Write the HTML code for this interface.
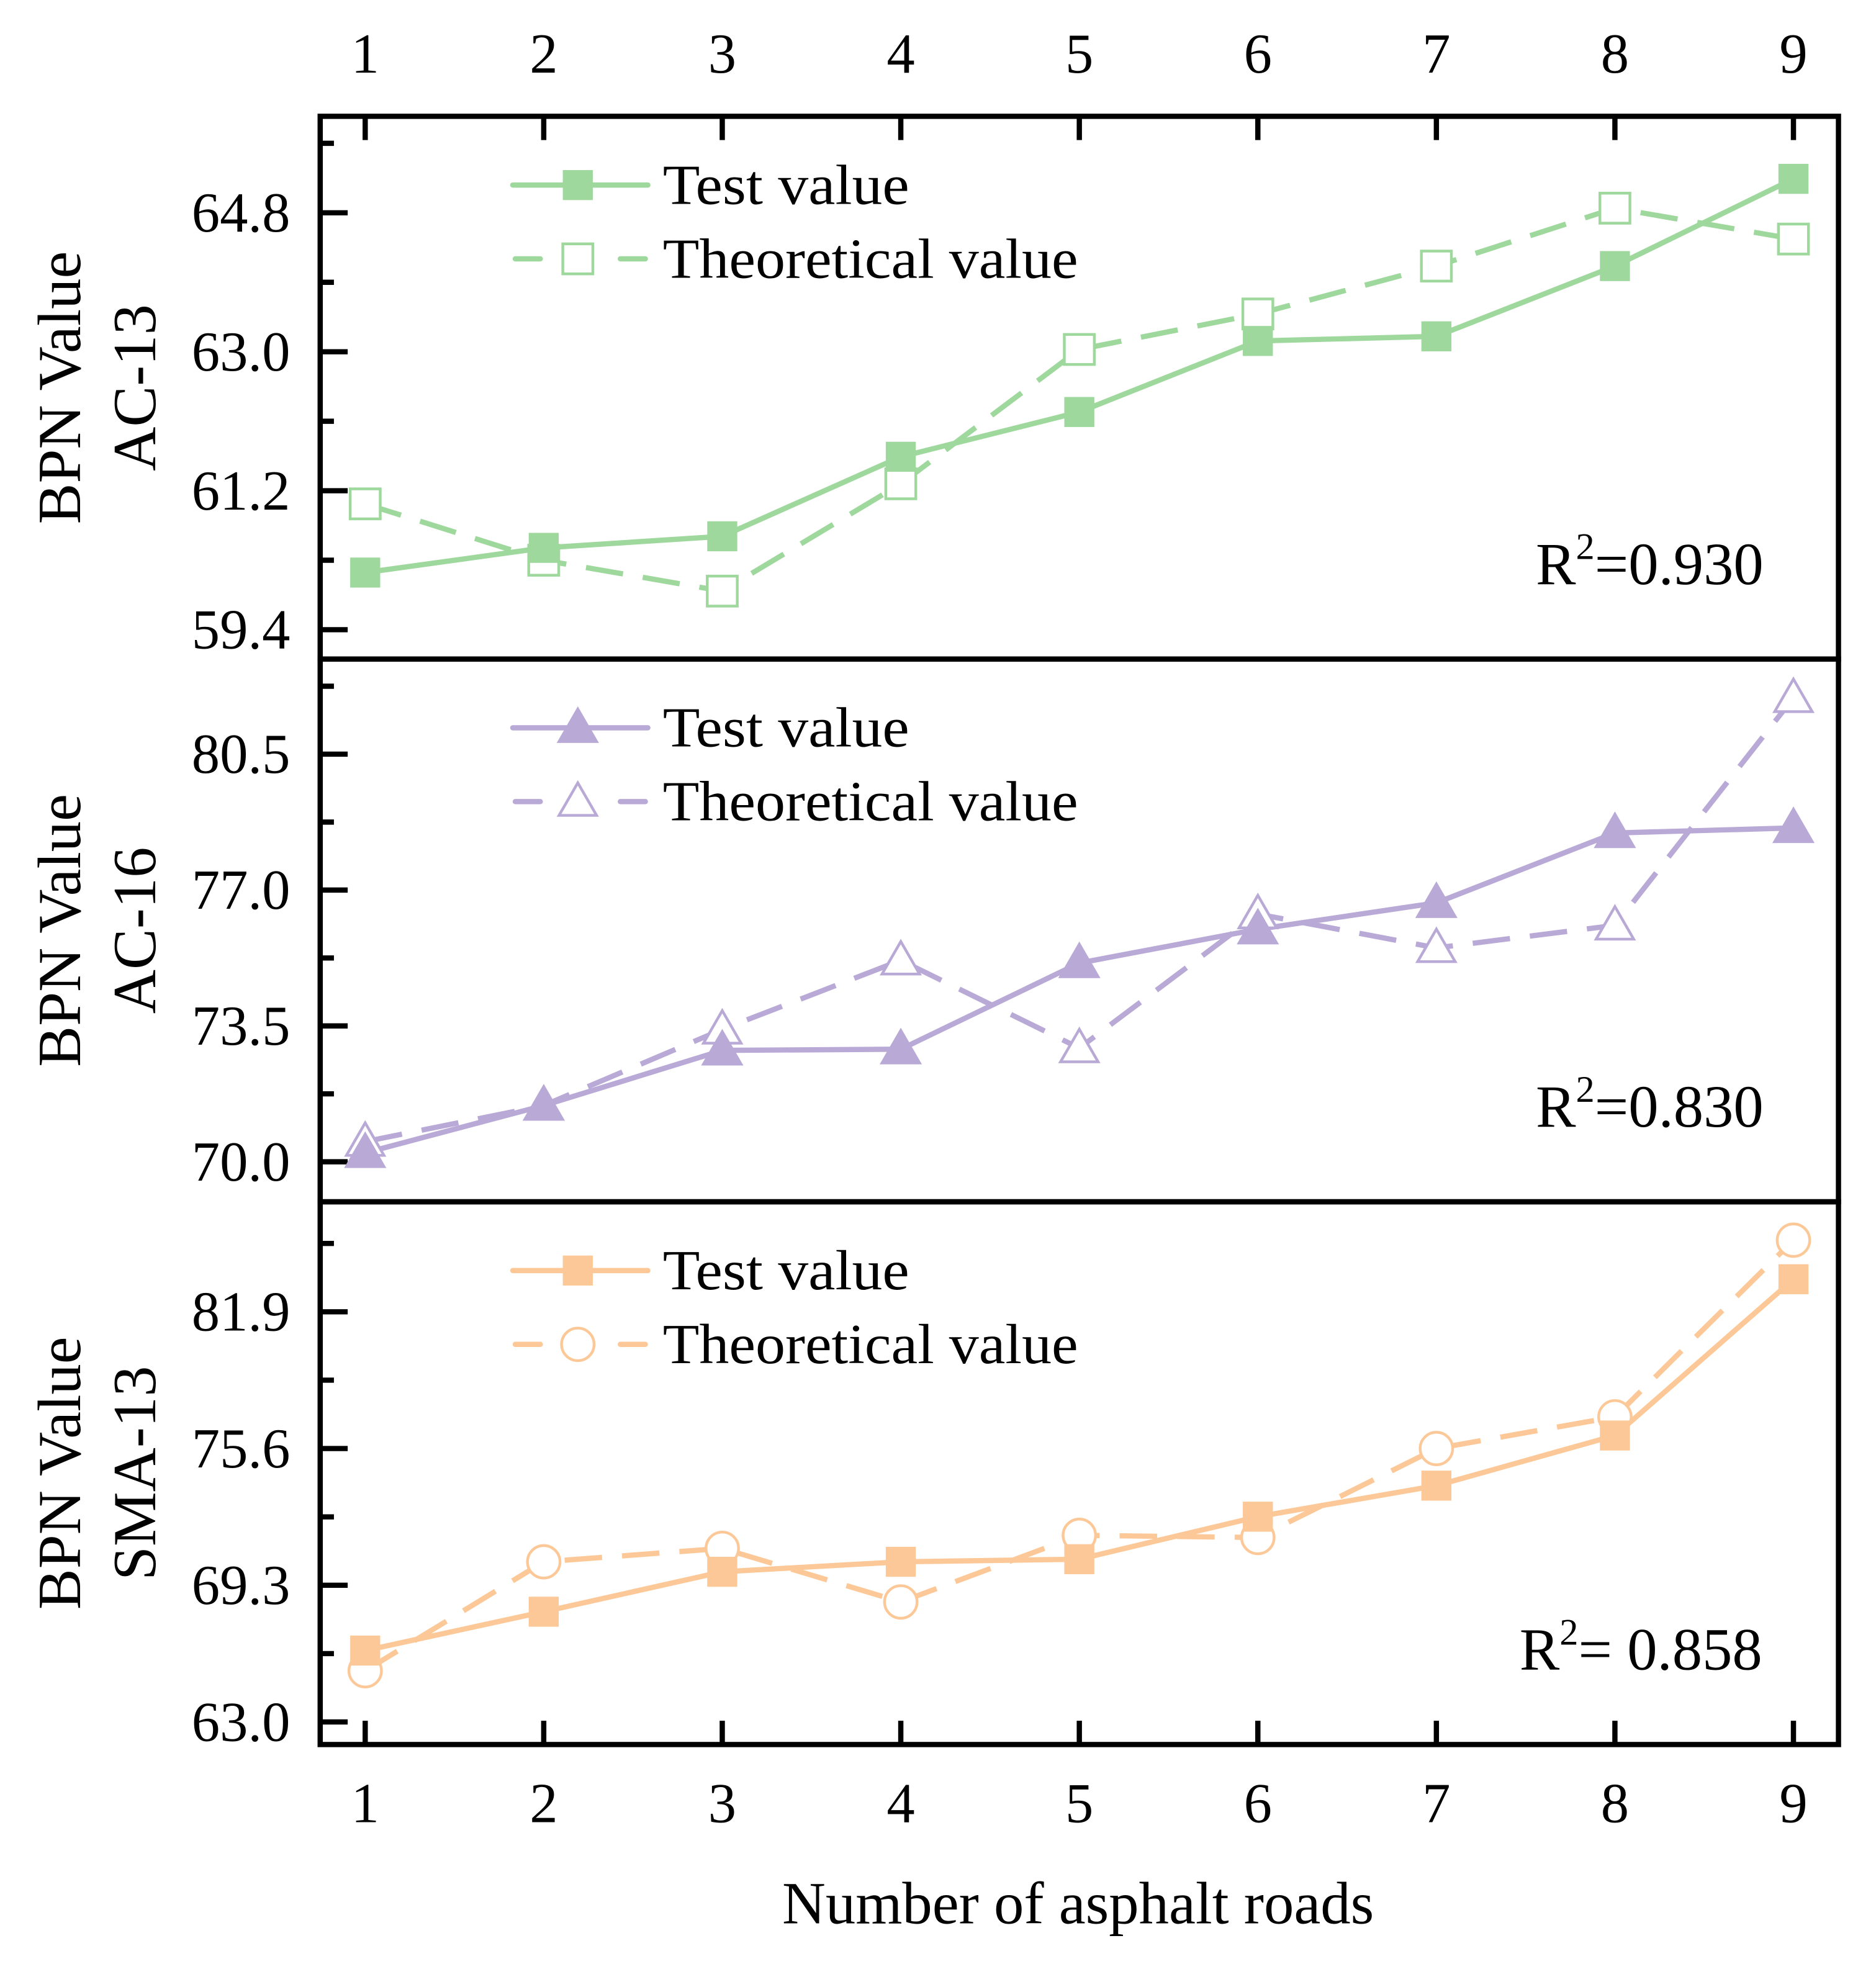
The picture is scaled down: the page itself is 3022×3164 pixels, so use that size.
<!DOCTYPE html>
<html><head><meta charset="utf-8"><style>
html,body{margin:0;padding:0;background:#fff;}
svg{display:block;font-family:"Liberation Serif",serif;}
</style></head><body>
<svg id="chart" width="3022" height="3164" viewBox="0 0 1500 1570.5" xmlns="http://www.w3.org/2000/svg">
<g id="root"></g>
</svg>
<script>
const categories = [1,2,3,4,5,6,7,8,9];
const panelNames = ["AC-13","AC-16","SMA-13"];
const ac13Test = [60.14,60.46,60.61,61.64,62.22,63.14,63.20,64.11,65.24];
const ac13Theo = [61.03,60.30,59.90,61.29,63.03,63.49,64.11,64.86,64.46];
const ac16Test = [70.23,71.45,72.87,72.90,75.12,75.99,76.67,78.47,78.60];
const ac16Theo = [70.52,71.45,73.41,75.19,72.93,76.38,75.51,76.09,81.95];
const sma13Test = [66.29,68.08,69.92,70.38,70.50,72.46,73.89,76.20,83.40];
const sma13Theo = [65.36,70.38,71.00,68.53,71.60,71.50,75.60,77.06,85.20];
const ac13Ticks = ["59.4","61.2","63.0","64.8"];
const ac16Ticks = ["70.0","73.5","77.0","80.5"];
const sma13Ticks = ["63.0","69.3","75.6","81.9"];
const r2Labels = ["0.930","0.830"," 0.858"];

const NS="http://www.w3.org/2000/svg";
const root=document.getElementById('root');
function mk(tag,attrs,parent){const e=document.createElementNS(NS,tag);for(const k in attrs)e.setAttribute(k,attrs[k]);(parent||root).appendChild(e);return e;}

const L=256,R=1470,TOP=93,PH=434;
const SW=4.2;
const xS=v=>292+(v-1)*(1434-292)/8;
const panels=[
 {name:panelNames[0],test:ac13Test,theo:ac13Theo,ticks:ac13Ticks,min:59.02,max:66.05,step:0.9,col:"#9ed89c",mk:"square",theoMk:"square",r2:r2Labels[0],r2x:1228},
 {name:panelNames[1],test:ac16Test,theo:ac16Theo,ticks:ac16Ticks,min:68.97,max:82.95,step:1.75,col:"#b9a9d6",mk:"tri",theoMk:"tri",r2:r2Labels[1],r2x:1228},
 {name:panelNames[2],test:sma13Test,theo:sma13Theo,ticks:sma13Ticks,min:61.96,max:86.97,step:3.15,col:"#fcc897",mk:"square",theoMk:"circle",r2:r2Labels[2],r2x:1215}
];

function marker(g,type,cx,cy,col,filled,name){
  let e;
  if(type==="square"){e=mk('rect',{x:cx-12,y:cy-12,width:24,height:24,fill:filled?col:'#fff',stroke:col,'stroke-width':filled?0:2.2},g);}
  else if(type==="tri"){e=mk('polygon',{points:`${cx},${cy-15} ${cx-15},${cy+11} ${cx+15},${cy+11}`,fill:filled?col:'#fff',stroke:col,'stroke-width':2.2},g);}
  else {e=mk('circle',{cx:cx,cy:cy,r:13,fill:'#fff',stroke:col,'stroke-width':2.2},g);}
  
  
  return e;
}

panels.forEach((p,i)=>{
  const top=TOP+i*PH, bot=top+PH;
  const yS=v=>bot-(v-p.min)/(p.max-p.min)*PH;
  const g=mk('g',{});
  
  
  const base=parseFloat(p.ticks[0]);
  for(let k=-1;k<12;k++){
    const v=base+k*p.step;
    if(v<p.min||v>p.max)continue;
    const major=(k%2===0);
    const y=yS(v);
    const t=mk('line',{x1:L,x2:L+(major?22:11),y1:y,y2:y,stroke:'#000','stroke-width':SW},g);
    
    
  }
  p.ticks.forEach(tl=>{
    const t=mk('text',{x:232,y:yS(parseFloat(tl))+15,'font-size':45,'text-anchor':'end'},g);
    t.textContent=tl;
    
    
  });
  const cy=(top+bot)/2;
  const t1=mk('text',{x:0,y:0,'font-size':49,'text-anchor':'middle',transform:`translate(64,${cy}) rotate(-90)`},g);
  t1.textContent="BPN Value";
  
  
  const t2=mk('text',{x:0,y:0,'font-size':49,'text-anchor':'middle',transform:`translate(124,${cy}) rotate(-90)`},g);
  t2.textContent=p.name;
  
  
  const ptsTheo=categories.map((c,j)=>xS(c)+','+yS(p.theo[j])).join(' ');
  const lt=mk('polyline',{points:ptsTheo,fill:'none',stroke:p.col,'stroke-width':SW,'stroke-dasharray':'30 16'},g);
  
  
  const ptsTest=categories.map((c,j)=>xS(c)+','+yS(p.test[j])).join(' ');
  const ls=mk('polyline',{points:ptsTest,fill:'none',stroke:p.col,'stroke-width':SW},g);
  
  
  categories.forEach((c,j)=>marker(g,p.theoMk,xS(c),yS(p.theo[j]),p.col,false,'theoretical-point'));
  categories.forEach((c,j)=>marker(g,p.mk,xS(c),yS(p.test[j]),p.col,true,'test-point'));
  const lg=mk('g',{},g);
  
  
  const ly1=top+55, ly2=top+114;
  mk('line',{x1:410,x2:518,y1:ly1,y2:ly1,stroke:p.col,'stroke-width':SW,'stroke-linecap':'round'},lg);
  marker(lg,p.mk,462,ly1,p.col,true,'legend-test-marker');
  mk('line',{x1:412,x2:432,y1:ly2,y2:ly2,stroke:p.col,'stroke-width':SW,'stroke-linecap':'round'},lg);
  mk('line',{x1:496,x2:516,y1:ly2,y2:ly2,stroke:p.col,'stroke-width':SW,'stroke-linecap':'round'},lg);
  marker(lg,p.theoMk,462,ly2,p.col,false,'legend-theoretical-marker');
  const a=mk('text',{x:530,y:ly1+15,'font-size':45,textLength:197,lengthAdjust:'spacingAndGlyphs'},lg);
  a.textContent="Test value";
  
  
  const b=mk('text',{x:530,y:ly2+15,'font-size':45,textLength:332,lengthAdjust:'spacingAndGlyphs'},lg);
  b.textContent="Theoretical value";
  
  
  const r=mk('text',{x:p.r2x,y:top+374,'font-size':48},g);
  r.innerHTML='R<tspan font-size="30" dy="-20">2</tspan><tspan dy="20">='+p.r2+'</tspan>';
  
  
  const fr=mk('rect',{x:L,y:top,width:R-L,height:PH,fill:'none',stroke:'#000','stroke-width':SW},g);
  
  
});

const BOT=TOP+3*PH;
categories.forEach(c=>{
  const x=xS(c);
  const a=mk('line',{x1:x,x2:x,y1:TOP,y2:TOP+19,stroke:'#000','stroke-width':SW});
  
  
  const b=mk('line',{x1:x,x2:x,y1:BOT,y2:BOT-19,stroke:'#000','stroke-width':SW});
  
  
  const t=mk('text',{x:x,y:58,'font-size':45,'text-anchor':'middle'});
  t.textContent=c;
  
  
  const u=mk('text',{x:x,y:1457,'font-size':45,'text-anchor':'middle'});
  u.textContent=c;
  
  
});
const xt=mk('text',{x:862,y:1538,'font-size':48,'text-anchor':'middle'});
xt.textContent="Number of asphalt roads";


</script>
</body></html>
